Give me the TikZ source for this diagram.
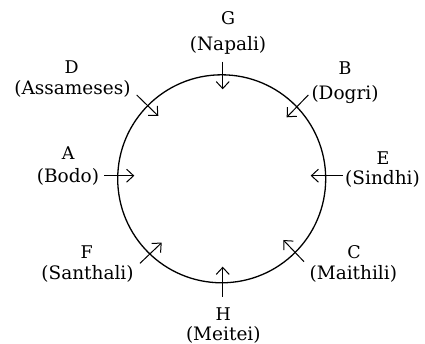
\documentclass[tikz,border=0pt]{standalone}
\usepackage{fontspec}
\setmainfont{DejaVu Serif}
\usetikzlibrary{arrows.meta}
\begin{document}
\begin{tikzpicture}[x=1pt,y=-1pt,
  lett/.style={anchor=base,inner sep=0pt,font=\fontsize{17.5}{19}\selectfont},
  lang/.style={anchor=base,inner sep=0pt,font=\fontsize{18.5}{20}\selectfont},
  arr/.style={-{Straight Barb[length=7pt,width=13pt]},line width=1pt}]
\useasboundingbox (0,0) rectangle (425,344);
\node[circle,draw,line width=1.3pt,minimum size=208pt,inner sep=0pt] (ring) at (221.7,178.8) {};
% labels
\node[lett] (G) at (228,25) {G};
\node[lang] (Gn) at (228,50.7) {(Napali)};
\node[lett] (D) at (71.7,74) {D};
\node[lang] (Dn) at (72.5,95) {(Assameses)};
\node[lett] (B) at (345,75) {B};
\node[lang] (Bn) at (345,100) {(Dogri)};
\node[lett] (A) at (68.3,160) {A};
\node[lang] (An) at (68,182.7) {(Bodo)};
\node[lett] (E) at (383,165) {E};
\node[lang] (En) at (382.5,184.3) {(Sindhi)};
\node[lett] (F) at (86.7,258.3) {F};
\node[lang] (Fn) at (87.5,279.3) {(Santhali)};
\node[lett] (C) at (354,258.3) {C};
\node[lang] (Cn) at (353.3,279.3) {(Maithili)};
\node[lett] (H) at (223.3,320.5) {H};
\node[lang] (Hn) at (223.3,340.5) {(Meitei)};
% arrow ends
\coordinate (gt) at (222.7,61.7);  \coordinate (gh) at (222.7,89.3);
\coordinate (dt) at (136.7,95);    \coordinate (dh) at (158.3,116);
\coordinate (bt) at (308.3,95);    \coordinate (bh) at (286.7,117.3);
\coordinate (at) at (104,175.7);   \coordinate (ah) at (134.3,175.7);
\coordinate (et) at (342.7,175.7); \coordinate (eh) at (310.7,175.7);
\coordinate (ft) at (140,263.3);   \coordinate (fh) at (161.7,242.7);
\coordinate (ct) at (304,261.7);   \coordinate (ch) at (283.3,240);
\coordinate (ht) at (222.7,296.7); \coordinate (hh) at (222.7,266.7);
\draw[arr] (gt) -- (gh);
\draw[arr] (dt) -- (dh);
\draw[arr] (bt) -- (bh);
\draw[arr] (at) -- (ah);
\draw[arr] (et) -- (eh);
\draw[arr] (ft) -- (fh);
\draw[arr] (ct) -- (ch);
\draw[arr] (ht) -- (hh);
\end{tikzpicture}
\end{document}
